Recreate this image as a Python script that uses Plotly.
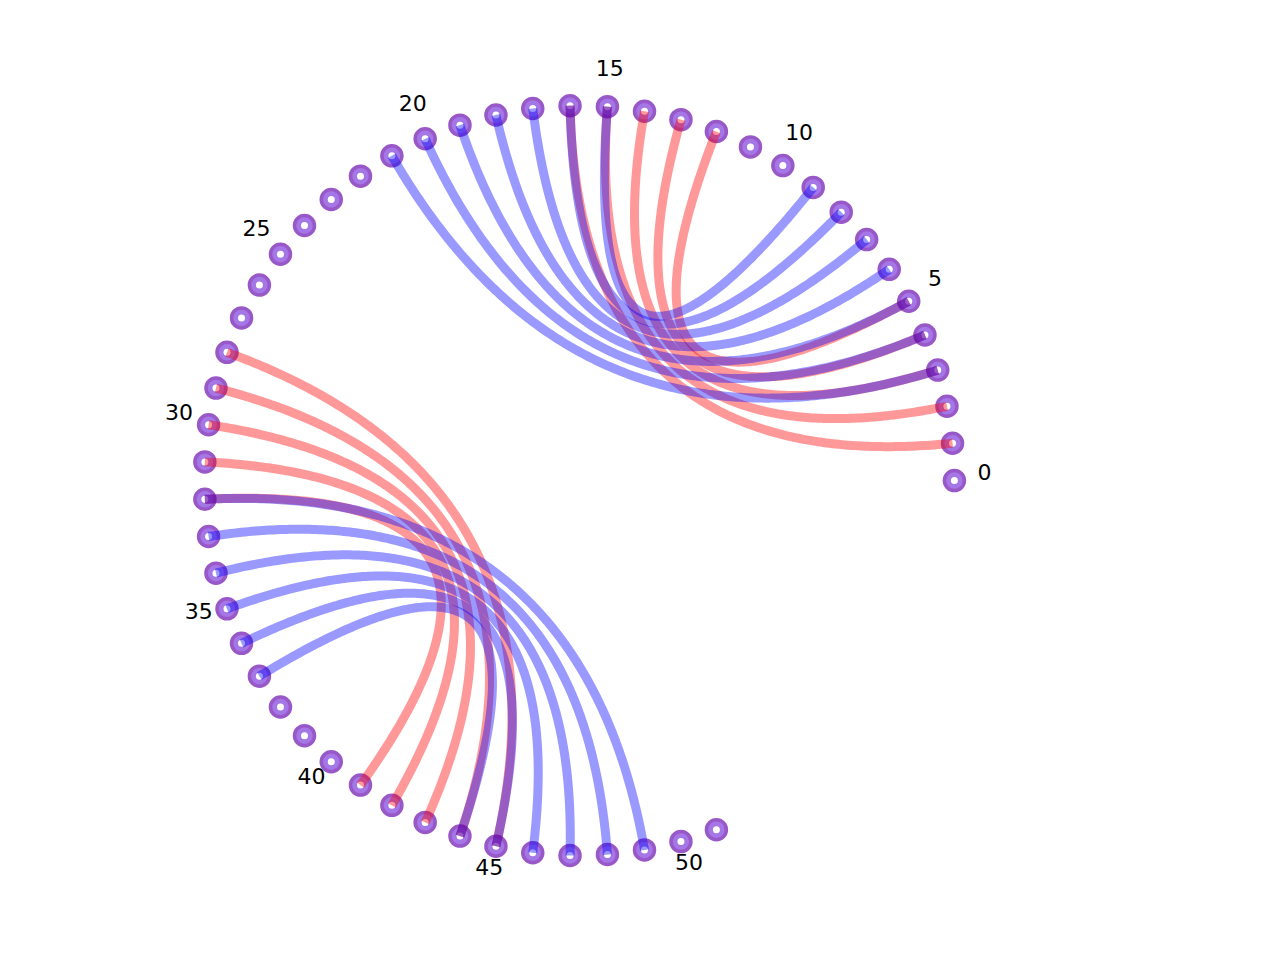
import numpy as np
import plotly.graph_objects as go

# circle layout: 63 slots, nodes 0..51 are drawn
n_slots = 63
nodes = list(range(52))
tick_nodes = [0, 5, 10, 15, 20, 25, 30, 35, 40, 45, 50]
tick_labels = ["0", "5", "10", "15", "20", "25", "30", "35", "40", "45", "50"]

# edges (node pairs)
red_edges = [(1, 16), (2, 15), (3, 14), (4, 13), (5, 12),
             (28, 45), (29, 44), (30, 43), (31, 42), (32, 41)]
blue_edges = [(3, 21), (4, 20), (5, 19), (6, 18), (7, 17), (8, 16), (9, 15),
              (32, 49), (33, 48), (34, 47), (35, 46), (36, 45), (37, 44)]


def pos(i, r=1.0):
    a = 2 * np.pi * i / n_slots
    return r * np.cos(a), r * np.sin(a)


def curve_xy(edges):
    # quadratic bezier with the circle centre as control point
    t = np.linspace(0, 1, 200)
    xs, ys = [], []
    for a, b in edges:
        x0, y0 = pos(a)
        x2, y2 = pos(b)
        xs += list((1 - t) ** 2 * x0 + t ** 2 * x2) + [None]
        ys += list((1 - t) ** 2 * y0 + t ** 2 * y2) + [None]
    return xs, ys


node_x = [pos(i)[0] for i in nodes]
node_y = [pos(i)[1] for i in nodes]

fig = go.Figure()

fig.add_trace(go.Scatter(
    x=node_x, y=node_y, mode="markers", hoverinfo="skip",
    marker=dict(size=20, color="rgb(164,118,230)",
                line=dict(width=3.5, color="rgb(152,88,200)")),
))
fig.add_trace(go.Scatter(
    x=node_x, y=node_y, mode="markers", hoverinfo="skip",
    marker=dict(size=7, color="white", line=dict(width=0)),
))

rx, ry = curve_xy(red_edges)
fig.add_trace(go.Scatter(x=rx, y=ry, mode="lines", hoverinfo="skip",
                         line=dict(color="rgba(255,0,0,0.4)", width=9,
                                   simplify=False)))
bx, by = curve_xy(blue_edges)
fig.add_trace(go.Scatter(x=bx, y=by, mode="lines", hoverinfo="skip",
                         line=dict(color="rgba(0,0,255,0.4)", width=9,
                                   simplify=False)))

# labels sit just outside the ring, baseline on radius 1.08
lab_x = [pos(i, 1.08)[0] for i in tick_nodes]
lab_y = [pos(i, 1.08)[1] + 0.016 for i in tick_nodes]
fig.add_trace(go.Scatter(
    x=lab_x, y=lab_y, mode="text", text=tick_labels,
    textposition="middle center", hoverinfo="skip",
    textfont=dict(family="DejaVu Sans", size=22, color="black"),
))

fig.update_layout(
    width=1280, height=960,
    margin=dict(l=0, r=0, t=0, b=0),
    paper_bgcolor="white", plot_bgcolor="white",
    showlegend=False,
    xaxis=dict(range=[-1.5237, 1.8896], visible=False, fixedrange=True),
    yaxis=dict(range=[-1.2997, 1.2603], visible=False, fixedrange=True),
)

fig.write_html("out.html")
